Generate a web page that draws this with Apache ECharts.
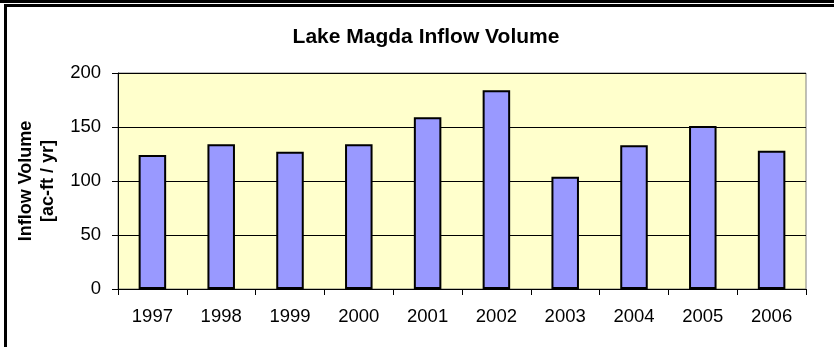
<!DOCTYPE html>
<html>
<head>
<meta charset="utf-8">
<script src="https://cdn.jsdelivr.net/npm/echarts@6/dist/echarts.min.js"></script>
<style>html,body{margin:0;padding:0;background:#fff;}#c{width:834px;height:347px;}</style>
</head>
<body>
<div id="c"></div>
<script>
const years = ['1997','1998','1999','2000','2001','2002','2003','2004','2005','2006'];
const inflowVolume = [124, 134, 127, 134, 159, 184, 104, 133, 151, 128];
const yTicks = { min: 0, max: 200, interval: 50 };
const titleText = 'Lake Magda Inflow Volume';
const yAxisName = 'Inflow Volume\n[ac-ft / yr]';

const chart = echarts.init(document.getElementById('c'), null, { renderer: 'canvas' });
const font = 'Liberation Sans, Arial, sans-serif';
chart.setOption({
  animation: false,
  backgroundColor: '#ffffff',
  title: {
    text: titleText,
    left: 421, top: 22, textAlign: 'center',
    textStyle: { fontFamily: font, fontWeight: 'bold', fontSize: 21, color: '#000' }
  },
  grid: {
    left: 118, right: 28, top: 73, bottom: 58,
    outerBoundsMode: 'none', containLabel: false,
    show: true, backgroundColor: '#FFFFCC', borderColor: '#808080', borderWidth: 1
  },
  xAxis: {
    type: 'category', data: years,
    axisLine: { lineStyle: { color: '#000', width: 1 } },
    axisTick: { show: true, length: 6, alignWithLabel: false, lineStyle: { color: '#000' } },
    axisLabel: { fontFamily: font, fontSize: 18.5, color: '#000', margin: 18 },
    splitLine: { show: false }
  },
  yAxis: {
    type: 'value', min: yTicks.min, max: yTicks.max, interval: yTicks.interval,
    name: yAxisName, nameLocation: 'middle', nameGap: 50, nameRotate: 90,
    nameTextStyle: { fontFamily: font, fontWeight: 'bold', fontSize: 18, color: '#000', lineHeight: 22 },
    axisLine: { show: true, lineStyle: { color: '#000', width: 1 } },
    axisTick: { show: true, length: 6, lineStyle: { color: '#000' } },
    axisLabel: { fontFamily: font, fontSize: 18.5, color: '#000', margin: 17 },
    splitLine: { show: true, lineStyle: { color: '#000', width: 1 } }
  },
  series: [{
    type: 'bar', data: inflowVolume, barCategoryGap: '60%',
    itemStyle: { color: '#9999FF', borderColor: '#000', borderWidth: 2 }
  }],
  graphic: [
    { type: 'rect', shape: { x: 0, y: 0, width: 834, height: 3 }, style: { fill: '#000' }, z: 100 },
    { type: 'rect', shape: { x: 5.5, y: 5.5, width: 900, height: 400 }, style: { fill: null, stroke: '#000', lineWidth: 3 }, z: 100 }
  ]
});
</script>
</body>
</html>
